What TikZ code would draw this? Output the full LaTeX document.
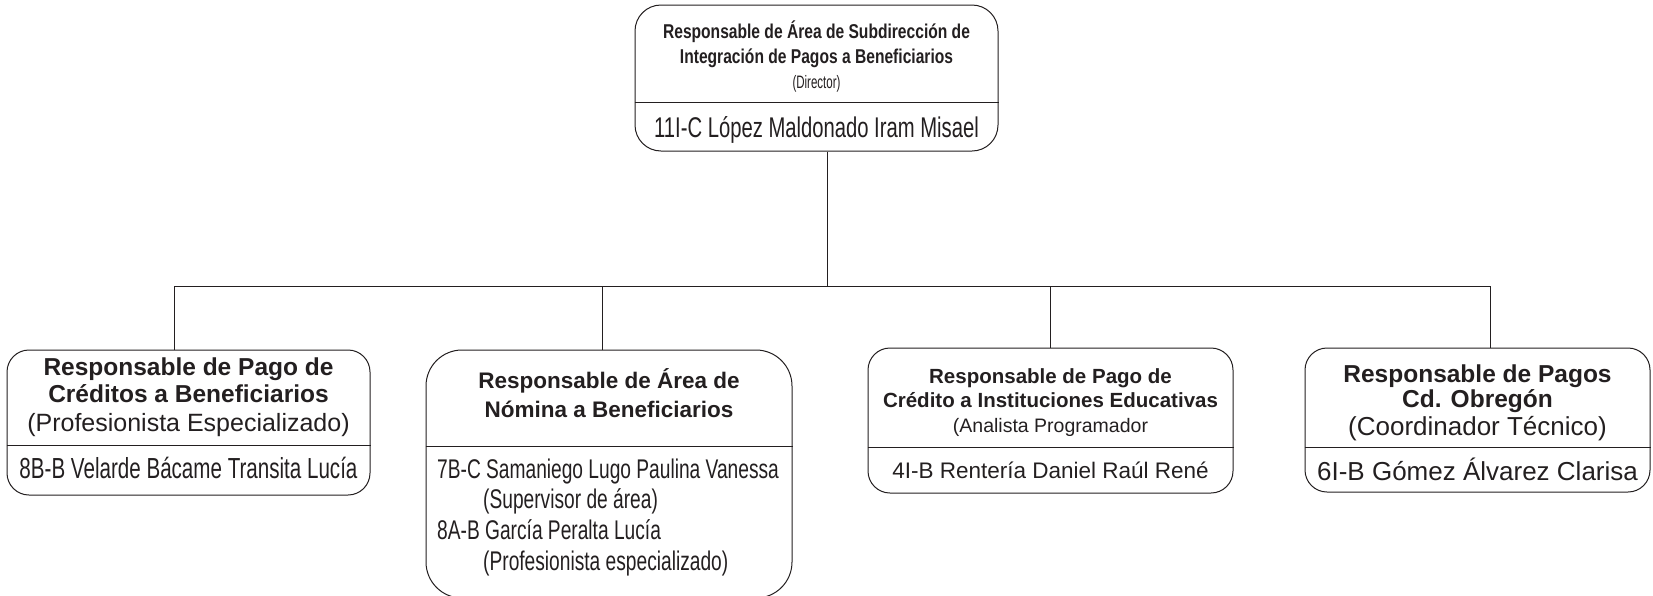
\documentclass[tikz,border=0pt]{standalone}
\usepackage{fontspec}
\setmainfont{Liberation Sans}
\newfontfamily\narrow[FakeStretch=0.71]{Liberation Sans}
\newfontfamily\narrowb[FakeStretch=0.78]{Liberation Sans}
\newfontfamily\narrowc[FakeStretch=0.64]{Liberation Sans}
\definecolor{ink}{HTML}{231F20}
\begin{document}
\begin{tikzpicture}[x=1pt,y=-1pt,
  box/.style={draw=ink,line width=1pt,rectangle,rounded corners=#1,inner sep=0pt},
  box/.default=22pt,
  conn/.style={draw=ink,line width=1pt},
  lab/.style={anchor=base,inner sep=0pt,text=ink}]
\useasboundingbox (0,0) rectangle (1653,595);
% boxes
\node[box=26pt,minimum width=363pt,minimum height=146pt] (top) at (816.5,78) {};
\node[box,minimum width=363pt,minimum height=145pt] (b1) at (188.5,422.5) {};
\node[box=36pt,minimum width=366pt,minimum height=248pt] (b2) at (609,474) {};
\node[box,minimum width=365pt,minimum height=145pt] (b3) at (1050.5,420.5) {};
\node[box,minimum width=345pt,minimum height=144pt] (b4) at (1477.5,420) {};
% dividers
\draw[conn] (top.west |- 0,102) -- (top.east |- 0,102);
\draw[conn] (b1.west |- 0,445) -- (b1.east |- 0,445);
\draw[conn] (b2.west |- 0,446) -- (b2.east |- 0,446);
\draw[conn] (b3.west |- 0,447) -- (b3.east |- 0,447);
\draw[conn] (b4.west |- 0,447) -- (b4.east |- 0,447);
% connectors
\coordinate (bus) at (827,286);
\draw[conn] (top.south -| bus) -- (bus);
\draw[conn] (b1.north -| 174,0) |- (bus);
\draw[conn] (b2.north -| 602,0) |- (bus);
\draw[conn] (b3.north -| 1050,0) |- (bus);
\draw[conn] (b4.north -| 1490,0) |- (bus);
% top text
\node[lab] (t1) at (816.5,38) {\narrowb\bfseries\fontsize{20}{24}\selectfont Responsable de Área de Subdirección de};
\node[lab] (t2) at (816.5,63) {\narrowb\bfseries\fontsize{20}{24}\selectfont Integración de Pagos a Beneficiarios};
\node[lab] (t3) at (816.5,88) {\narrowc\fontsize{18}{20}\selectfont (Director)};
\node[lab] (t4) at (816.5,137) {\narrow\fontsize{28.5}{32}\selectfont 11I-C López Maldonado Iram Misael};
% box 1
\node[lab] (a1) at (188.5,375) {\bfseries\fontsize{24.5}{28}\selectfont Responsable de Pago de};
\node[lab] (a2) at (188.5,402) {\bfseries\fontsize{24.5}{28}\selectfont Créditos a Beneficiarios};
\node[lab] (a3) at (188.5,431) {\fontsize{25}{30}\selectfont (Profesionista Especializado)};
\node[lab] (a4) at (188.5,478) {\narrow\fontsize{29}{32}\selectfont 8B-B Velarde Bácame Transita Lucía};
% box 2
\node[lab] (c1) at (609,388) {\bfseries\fontsize{22.5}{26}\selectfont Responsable de Área de};
\node[lab] (c2) at (609,417) {\bfseries\fontsize{22.5}{26}\selectfont Nómina a Beneficiarios};
\node[lab,anchor=base west] (c3) at (437,478) {\narrow\fontsize{27}{32}\selectfont 7B-C Samaniego Lugo Paulina Vanessa};
\node[lab,anchor=base west] (c4) at (483,508) {\narrow\fontsize{27}{32}\selectfont (Supervisor de área)};
\node[lab,anchor=base west] (c5) at (437,539) {\narrow\fontsize{27}{32}\selectfont 8A-B García Peralta Lucía};
\node[lab,anchor=base west] (c6) at (483,570) {\narrow\fontsize{27}{32}\selectfont (Profesionista especializado)};
% box 3
\node[lab] (d1) at (1050.5,383) {\bfseries\fontsize{20.5}{24}\selectfont Responsable de Pago de};
\node[lab] (d2) at (1050.5,407) {\bfseries\fontsize{20.5}{24}\selectfont Crédito a Instituciones Educativas};
\node[lab] (d3) at (1050.5,432) {\fontsize{19.5}{24}\selectfont (Analista Programador};
\node[lab] (d4) at (1050.5,478) {\fontsize{22.5}{28}\selectfont 4I-B Rentería Daniel Raúl René};
% box 4
\node[lab] (e1) at (1477.5,382) {\bfseries\fontsize{24.5}{28}\selectfont Responsable de Pagos};
\node[lab] (e2) at (1477.5,407) {\bfseries\fontsize{24.5}{28}\selectfont Cd. Obregón};
\node[lab] (e3) at (1477.5,435) {\fontsize{26}{30}\selectfont (Coordinador Técnico)};
\node[lab] (e4) at (1477.5,480) {\fontsize{26}{30}\selectfont 6I-B Gómez Álvarez Clarisa};
\end{tikzpicture}
\end{document}
